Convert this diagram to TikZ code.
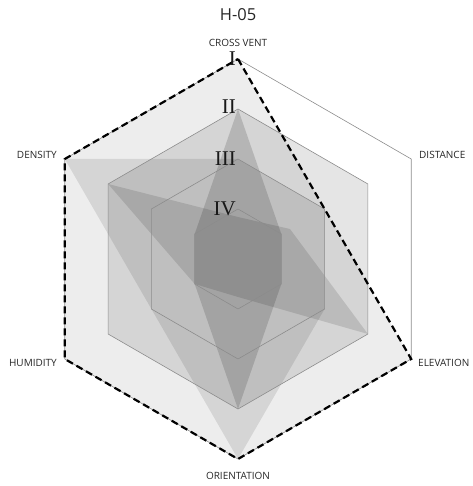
\documentclass[tikz,border=0pt]{standalone}
\usepackage{fontspec}
\setmainfont{Open Sans}
\newfontfamily\numfont{Liberation Serif}
\usepackage{tikz}
\def\levelI{(90:10) -- (30:10) -- (-30:10) -- (-90:10) -- (210:10) -- (150:10) -- cycle}
\def\levelII{(90:7.5) -- (30:7.5) -- (-30:7.5) -- (-90:7.5) -- (210:7.5) -- (150:7.5) -- cycle}
\def\levelIII{(90:5) -- (30:5) -- (-30:5) -- (-90:5) -- (210:5) -- (150:5) -- cycle}
\def\levelIV{(90:2.5) -- (30:2.5) -- (-30:2.5) -- (-90:2.5) -- (210:2.5) -- (150:2.5) -- cycle}
\def\plotA{(90:10) -- (30:5) -- (-30:10) -- (-90:10) -- (210:10) -- (150:10) -- cycle}
\def\plotB{(90:5) -- (30:5) -- (-30:5) -- (-90:10) -- (210:5) -- (150:10) -- cycle}
\def\plotC{(90:7.5) -- (30:2.5) -- (-30:2.5) -- (-90:7.5) -- (210:2.5) -- (150:2.5) -- cycle}
\def\plotD{(90:2.1) -- (30:3) -- (-30:7.5) -- (-90:1.9) -- (210:2.5) -- (150:7.5) -- cycle}

\begin{document}
\begin{tikzpicture}[x=20pt,y=20pt,fill=black,
    axislabel/.style={font=\fontsize{10}{11}\selectfont,text=black!85,inner sep=0pt},
    levellabel/.style={font=\numfont\fontsize{21}{21}\selectfont,text=black!90,inner sep=0pt,anchor=east}]
      \useasboundingbox (-11.9,-11.35) rectangle (11.7,12.95);
      % data
      \fill[fill opacity=.07] \plotA;
      \fill[fill opacity=.10] \plotB;
      \fill[fill opacity=.10] \levelII;
      \fill[fill opacity=.15] \plotC;
      \fill[fill opacity=.12] \plotD;
      % grid
      \draw[black!45,line width=.6pt] \levelI \levelII \levelIII \levelIV;
      \draw[line width=2.2pt,dash pattern=on 7pt off 4pt] \plotA;
      % labels
      \node[font=\fontsize{16.5}{18}\selectfont,text=black!85] (title) at (0,12.2) {H-05};
      \node[axislabel] (vent) at (0,10.8) {CROSS VENT};
      \node[axislabel,anchor=west] (dist) at (9.05,5.2) {DISTANCE};
      \node[axislabel,anchor=west] (elev) at (9.0,-5.2) {ELEVATION};
      \node[axislabel] (orient) at (0,-10.85) {ORIENTATION};
      \node[axislabel,anchor=east] (hum) at (-9.05,-5.2) {HUMIDITY};
      \node[axislabel,anchor=east] (dens) at (-9.05,5.2) {DENSITY};
      \node[levellabel] (one) at (-0.1,10.0) {I};
      \node[levellabel] (two) at (-0.1,7.6) {II};
      \node[levellabel] (three) at (-0.1,5.0) {III};
      \node[levellabel] (four) at (-0.1,2.5) {IV};
\end{tikzpicture}
\end{document}
